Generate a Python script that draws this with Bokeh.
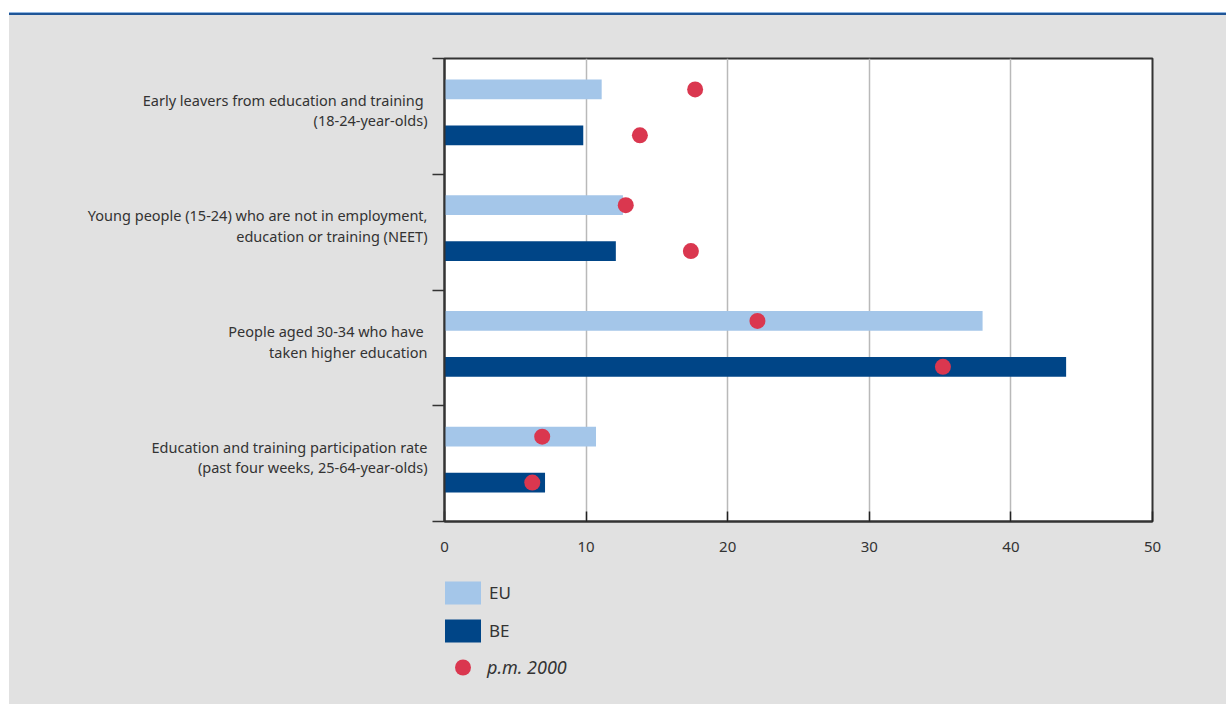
from bokeh.plotting import figure
from bokeh.models import (Range1d, FixedTicker, Legend, LegendItem, Div,
                          ColumnDataSource)
from bokeh.layouts import column
from bokeh.embed import file_html
from bokeh.resources import INLINE

# --- data -------------------------------------------------------------
categories = [
    "Early leavers from education and training \n(18-24-year-olds)",
    "Young people (15-24) who are not in employment,\neducation or training (NEET)",
    "People aged 30-34 who have \ntaken higher education",
    "Education and training participation rate\n(past four weeks, 25-64-year-olds)",
]
eu_values = [11.1, 12.6, 38.0, 10.7]
be_values = [9.8, 12.1, 43.9, 7.1]
eu_2000 = [17.7, 12.8, 22.1, 6.9]
be_2000 = [13.8, 17.4, 35.2, 6.2]
x_ticks = [0, 10, 20, 30, 40, 50]

# --- styling ----------------------------------------------------------
FONT = "Noto Sans"
EU_COLOR = "#a4c6e9"
BE_COLOR = "#004587"
DOT_COLOR = "#da374f"
PANEL = "#e1e1e1"
TEXT = "#333333"

n = len(categories)
idx = list(range(n))
eu_y = [i + 0.267 for i in idx]
be_y = [i + 0.664 for i in idx]
bar_h = 0.172

p = figure(width=1217, height=555, output_backend="svg", toolbar_location=None,
           x_range=Range1d(0, 50), y_range=Range1d(n, 0),
           min_border_left=435, min_border_right=74,
           min_border_top=43, min_border_bottom=49)
p.margin = 0
p.background_fill_color = "white"
p.border_fill_color = PANEL
p.outline_line_color = "#333333"
p.outline_line_width = 2

eu_src = ColumnDataSource(dict(y=eu_y, v=eu_values, d=eu_2000))
be_src = ColumnDataSource(dict(y=be_y, v=be_values, d=be_2000))

p.hbar(y="y", right="v", left=0, height=bar_h, source=eu_src,
       fill_color=EU_COLOR, line_color=None)
p.hbar(y="y", right="v", left=0, height=bar_h, source=be_src,
       fill_color=BE_COLOR, line_color=None)
p.scatter(x="d", y="y", source=eu_src, size=16, marker="circle",
          fill_color=DOT_COLOR, line_color=None)
p.scatter(x="d", y="y", source=be_src, size=16, marker="circle",
          fill_color=DOT_COLOR, line_color=None)

# x axis
xa = p.xaxis[0]
xa.ticker = FixedTicker(ticks=x_ticks)
xa.major_tick_in = 10
xa.major_tick_out = 0
xa.minor_tick_line_color = None
xa.major_tick_line_color = "#222222"
xa.major_tick_line_width = 1.5
xa.axis_line_color = "#333333"
xa.axis_line_width = 2
xa.major_label_standoff = 20
xa.major_label_text_font = FONT
xa.major_label_text_font_size = "15px"
xa.major_label_text_color = TEXT

# y axis: boundary ticks, labels near band centres
ya = p.yaxis[0]
label_pos = [i + 0.444 for i in idx]
ya.ticker = FixedTicker(ticks=label_pos, minor_ticks=list(range(n + 1)))
ya.major_label_overrides = {pos: lab for pos, lab in zip(label_pos, categories)}
ya.major_tick_line_color = None
ya.major_tick_in = 0
ya.major_tick_out = 0
ya.minor_tick_in = 0
ya.minor_tick_out = 12
ya.minor_tick_line_color = "#333333"
ya.minor_tick_line_width = 1.5
ya.axis_line_color = "#333333"
ya.axis_line_width = 2
ya.major_label_standoff = 5
ya.major_label_text_font = FONT
ya.major_label_text_font_size = "14.5px"
ya.major_label_text_color = TEXT
ya.major_label_text_line_height = 1.03

p.ygrid.grid_line_color = None
p.xgrid.ticker = FixedTicker(ticks=[10, 20, 30, 40])
p.xgrid.grid_line_color = "#b9b9b9"
p.xgrid.grid_line_width = 1.5

# --- legend strip under the chart --------------------------------------
lg = figure(width=1217, height=134, output_backend="svg", toolbar_location=None,
            x_range=Range1d(0, 1), y_range=Range1d(0, 1),
            min_border=0, min_border_left=0, min_border_right=0,
            min_border_top=0, min_border_bottom=0)
lg.margin = 0
lg.axis.visible = False
lg.grid.visible = False
lg.background_fill_color = PANEL
lg.border_fill_color = PANEL
lg.outline_line_color = None

# key glyphs sit outside the visible range; only their legend swatches show
key = ColumnDataSource(dict(x=[-5], y=[-5]))
k_eu = lg.rect(x="x", y="y", width=1, height=1, source=key,
               fill_color=EU_COLOR, line_color=None)
k_be = lg.rect(x="x", y="y", width=1, height=1, source=key,
               fill_color=BE_COLOR, line_color=None)
k_dot = lg.scatter(x="x", y="y", source=key, size=16, marker="circle",
                   fill_color=DOT_COLOR, line_color=None)


def style_legend(leg, glyph_h, spacing):
    leg.glyph_width = 45
    leg.glyph_height = glyph_h
    leg.spacing = spacing
    leg.padding = 0
    leg.margin = 0
    leg.label_standoff = 4
    leg.label_text_font = FONT
    leg.label_text_font_size = "17px"
    leg.label_text_color = TEXT
    leg.border_line_color = None
    leg.background_fill_alpha = 0


leg1 = Legend(items=[LegendItem(label="EU", renderers=[k_eu]),
                     LegendItem(label="BE", renderers=[k_be])],
              location=(-4, 59))
style_legend(leg1, 29, 9)
leg2 = Legend(items=[LegendItem(label="p.m. 2000", renderers=[k_dot])],
              location=(-4, 17))
style_legend(leg2, 40, 0)
leg2.label_text_font_style = "italic"
leg2.label_text_font_size = "18px"
leg2.label_standoff = 2
lg.add_layout(leg1)
lg.add_layout(leg2)

rule = Div(width=1217, height=3, margin=0,
           styles={"background": "linear-gradient(to bottom, #8fb5e0 0px, #8fb5e0 1px, #1f5597 1px, #1f5597 3px)"})

layout = column(rule, p, lg, spacing=0, margin=(12, 0, 0, 9),
                styles={"background-color": PANEL})
open("out.html", "w").write(file_html(layout, INLINE))
